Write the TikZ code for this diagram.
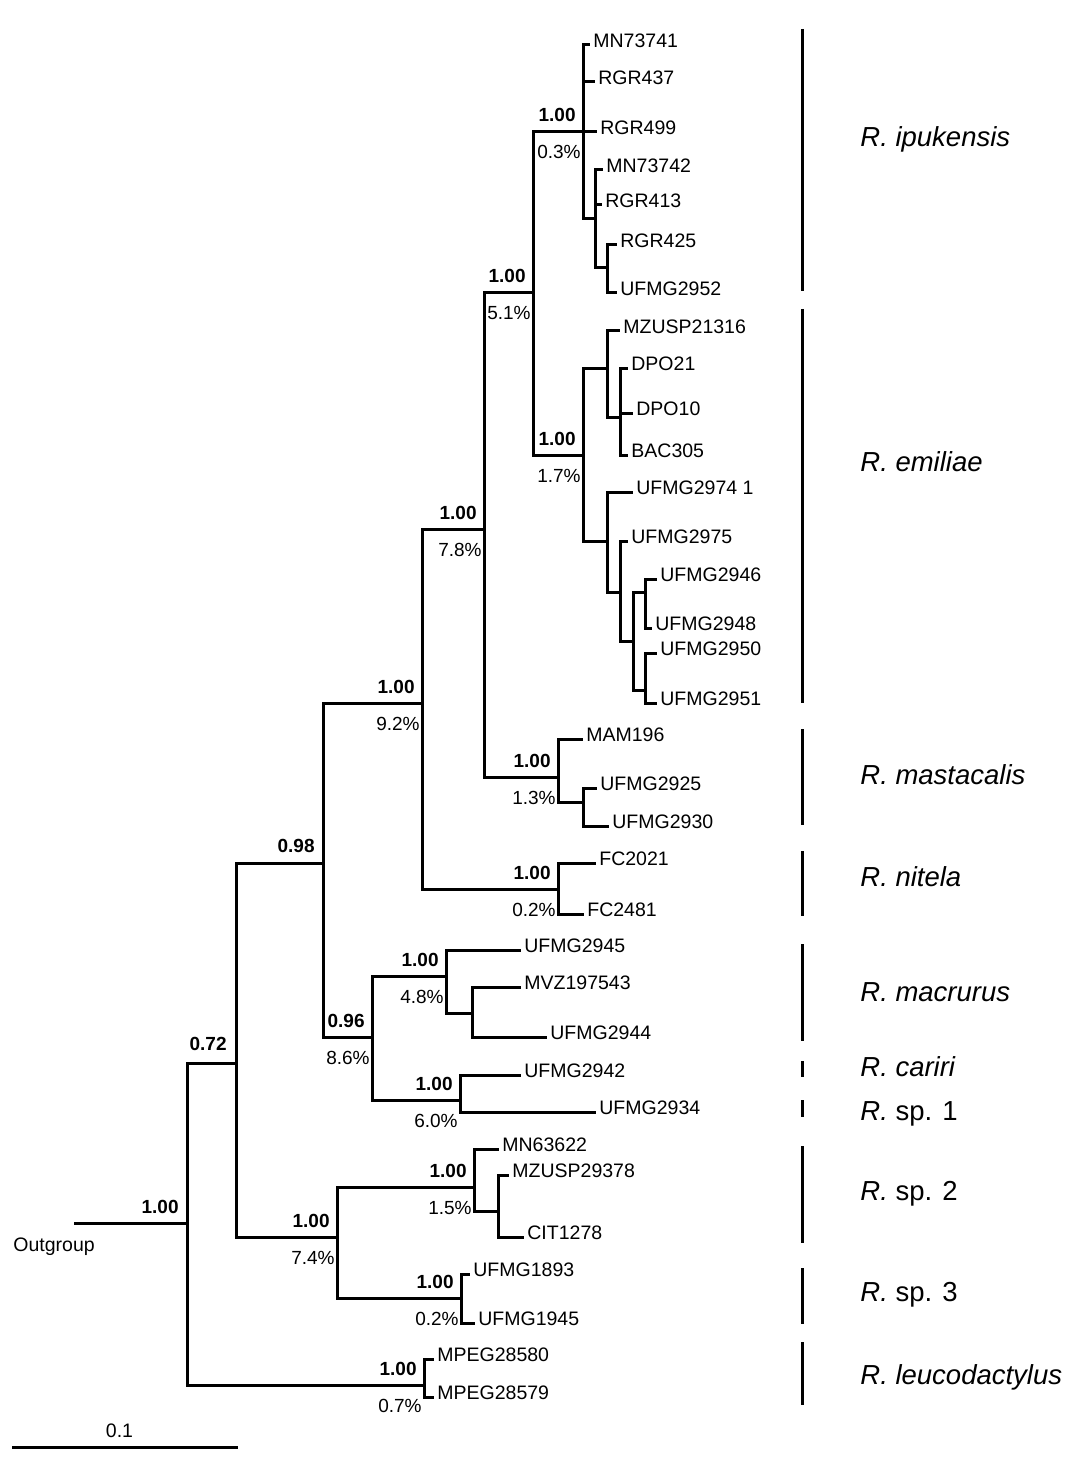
\documentclass[tikz,border=0pt]{standalone}
\usepackage{fontspec}
\setmainfont{Liberation Sans}
\usetikzlibrary{calc}
\tikzset{
  br/.style={line width=1.5pt, line join=miter},
  sbar/.style={line width=1.5pt},
  tiplab/.style={anchor=base west, inner sep=0pt, font=\fontsize{9.75}{11}\selectfont},
  pplab/.style={anchor=base east, inner sep=0pt, font=\bfseries\fontsize{9.5}{11}\selectfont},
  pclab/.style={anchor=base east, inner sep=0pt, font=\fontsize{9.5}{11}\selectfont},
  splab/.style={anchor=base west, inner sep=0pt, font=\itshape\fontsize{13.75}{16}\selectfont},
}
\newcommand\mytip[5]{%
  \coordinate (#1) at (#3,#4);
  \draw[br] (#2) |- (#1);
  \node[tiplab] (#1-l) at ($(#1)+(3,2.5)$) {#5};}
\newcommand\myin[4]{%
  \coordinate (#1) at (#3,#4);
  \draw[br] (#2) |- (#1);}
\newcommand\mysup[3]{%
  \node[pplab] (#1-pp) at ($(#1)+(-7,-10)$) {#2};
  \node[pclab] (#1-pc) at ($(#1)+(-2,27)$) {#3};}
\begin{document}
\begin{tikzpicture}[x=0.5pt,y=-0.5pt]
\path[use as bounding box] (0,0) rectangle (1083,1476);
% root
\coordinate (n0) at (187,1223);
\coordinate (og) at (74,1223);
\draw[br] (n0) -- (og);
\node[tiplab] (og-l) at (13,1251) {Outgroup};
\node[pplab] (n0-pp) at ($(n0)+(-8,-10)$) {1.00};
\myin{n72}{n0}{236}{1063}
\myin{nleuco}{n0}{424}{1385}
\myin{n98}{n72}{323}{863}
\myin{nsp23}{n72}{337}{1237}
\myin{n92}{n98}{422}{703}
\myin{n96}{n98}{372}{1037}
\myin{n78}{n92}{484}{529}
\myin{nnit}{n92}{558}{889}
\myin{n51}{n78}{533}{293}
\myin{nmast}{n78}{558}{777}
\myin{nipu}{n51}{583}{132}
\myin{nemi}{n51}{583}{455}
% ipukensis
\mytip{t1}{nipu}{590}{45}{MN73741}
\mytip{t2}{nipu}{595}{82}{RGR437}
\mytip{t3}{nipu}{597}{132}{RGR499}
\myin{ni2}{nipu}{595}{219}
\mytip{t4}{ni2}{603}{170}{MN73742}
\mytip{t5}{ni2}{602}{205}{RGR413}
\myin{ni3}{ni2}{607}{268}
\mytip{t6}{ni3}{617}{245}{RGR425}
\mytip{t7}{ni3}{617}{293}{UFMG2952}
% emiliae
\myin{ne1}{nemi}{607}{368}
\mytip{t8}{ne1}{620}{331}{MZUSP21316}
\myin{ne1b}{ne1}{620}{417}
\mytip{t9}{ne1b}{628}{368}{DPO21}
\mytip{t10}{ne1b}{633}{413}{DPO10}
\mytip{t11}{ne1b}{628}{455}{BAC305}
\myin{ne2}{nemi}{607}{541}
\mytip{t12}{ne2}{633}{492}{UFMG2974 1}
\myin{ne3}{ne2}{620}{592}
\mytip{t13}{ne3}{628}{541}{UFMG2975}
\myin{ne4}{ne3}{633}{641}
\myin{ne5}{ne4}{645}{592}
\mytip{t14}{ne5}{657}{579}{UFMG2946}
\mytip{t15}{ne5}{652}{628}{UFMG2948}
\myin{ne6}{ne4}{645}{690}
\mytip{t16}{ne6}{657}{653}{UFMG2950}
\mytip{t17}{ne6}{657}{703}{UFMG2951}
% mastacalis
\mytip{t18}{nmast}{583}{739}{MAM196}
\myin{nm2}{nmast}{583}{802}
\mytip{t19}{nm2}{597}{788}{UFMG2925}
\mytip{t20}{nm2}{609}{826}{UFMG2930}
% nitela
\mytip{t21}{nnit}{596}{863}{FC2021}
\mytip{t22}{nnit}{584}{914}{FC2481}
% macrurus / cariri / sp1
\myin{nmac}{n96}{446}{976}
\mytip{t23}{nmac}{521}{950}{UFMG2945}
\myin{nmac2}{nmac}{472}{1013}
\mytip{t24}{nmac2}{521}{987}{MVZ197543}
\mytip{t25}{nmac2}{547}{1037}{UFMG2944}
\myin{ncar}{n96}{460}{1100}
\mytip{t26}{ncar}{521}{1075}{UFMG2942}
\mytip{t27}{ncar}{596}{1112}{UFMG2934}
% sp2 / sp3
\myin{nsp2}{nsp23}{474}{1187}
\mytip{t28}{nsp2}{499}{1149}{MN63622}
\myin{nsp2b}{nsp2}{498}{1211}
\mytip{t29}{nsp2b}{509}{1175}{MZUSP29378}
\mytip{t30}{nsp2b}{524}{1237}{CIT1278}
\myin{nsp3}{nsp23}{461}{1298}
\mytip{t31}{nsp3}{470}{1274}{UFMG1893}
\mytip{t32}{nsp3}{475}{1323}{UFMG1945}
% leucodactylus
\mytip{t33}{nleuco}{434}{1359}{MPEG28580}
\mytip{t34}{nleuco}{434}{1397}{MPEG28579}
% supports
\mysup{nipu}{1.00}{0.3\%}
\mysup{n51}{1.00}{5.1\%}
\mysup{nemi}{1.00}{1.7\%}
\mysup{n78}{1.00}{7.8\%}
\mysup{n92}{1.00}{9.2\%}
\mysup{nmast}{1.00}{1.3\%}
\mysup{nnit}{1.00}{0.2\%}
\node[pplab] (n98-pp) at ($(n98)+(-8,-11)$) {0.98};
\mysup{n96}{0.96}{8.6\%}
\mysup{nmac}{1.00}{4.8\%}
\mysup{ncar}{1.00}{6.0\%}
\node[pplab] (n72-pp) at ($(n72)+(-9,-13)$) {0.72};
\mysup{nsp23}{1.00}{7.4\%}
\mysup{nsp2}{1.00}{1.5\%}
\mysup{nsp3}{1.00}{0.2\%}
\mysup{nleuco}{1.00}{0.7\%}
% species bars
\draw[sbar] (802,29) -- (802,291);
\draw[sbar] (802,309) -- (802,703);
\draw[sbar] (802,729) -- (802,825);
\draw[sbar] (802,851) -- (802,916);
\draw[sbar] (802,944) -- (802,1041);
\draw[sbar] (802,1061) -- (802,1077);
\draw[sbar] (802,1100) -- (802,1117);
\draw[sbar] (802,1146) -- (802,1243);
\draw[sbar] (802,1268) -- (802,1324);
\draw[sbar] (802,1342) -- (802,1405);
\node[splab] (s1) at (860,147) {R. ipukensis};
\node[splab] (s2) at (860,471) {R. emiliae};
\node[splab] (s3) at (860,784) {R. mastacalis};
\node[splab] (s4) at (860,886) {R. nitela};
\node[splab] (s5) at (860,1001) {R. macrurus};
\node[splab] (s6) at (860,1076) {R. cariri};
\node[splab] (s7) at (860,1120) {R.\upshape{} sp. 1};
\node[splab] (s8) at (860,1200) {R.\upshape{} sp. 2};
\node[splab] (s9) at (860,1301) {R.\upshape{} sp. 3};
\node[splab] (s10) at (860,1384) {R. leucodactylus};
% scale bar
\coordinate (sb1) at (12,1447);
\coordinate (sb2) at (238,1447);
\draw[br] (sb1) -- (sb2);
\node[tiplab, anchor=base] (sb-l) at (119.5,1437) {0.1};
\end{tikzpicture}
\end{document}
